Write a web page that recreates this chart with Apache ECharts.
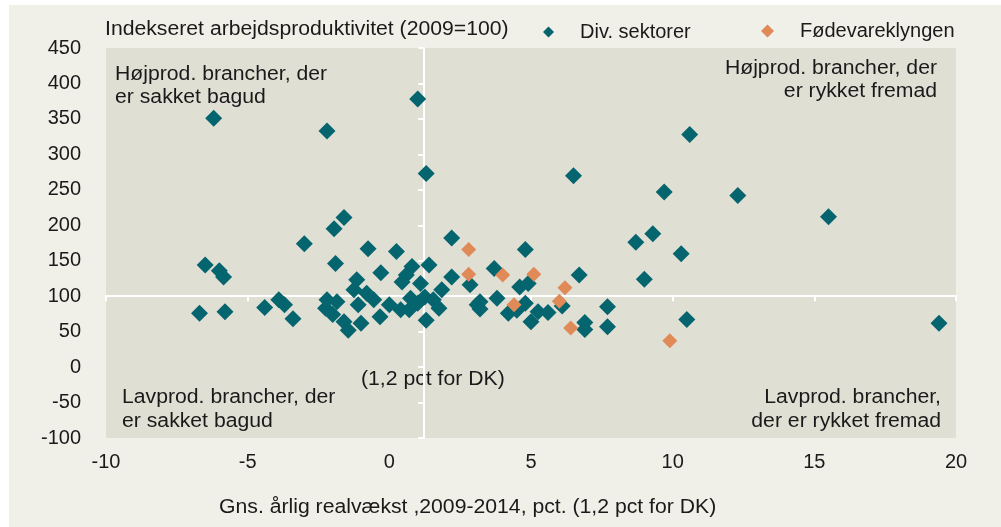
<!DOCTYPE html>
<html>
<head>
<meta charset="utf-8">
<script src="https://cdn.jsdelivr.net/npm/echarts@6/dist/echarts.min.js"></script>
<style>
  html, body { margin: 0; padding: 0; background: #ffffff; }
  #wrap { position: relative; width: 1001px; height: 527px; }
  #panel { position: absolute; left: 9px; top: 5px; right: 0; bottom: 0; background: #f0efe8; }
  #chart { position: absolute; left: 0; top: 0; width: 1001px; height: 527px; }
</style>
</head>
<body>
<div id="wrap">
  <div id="panel"></div>
  <div id="chart"></div>
</div>
<script>
  // [vaekst, produktivitet]
  var divSektorer = [
    [-6.2, 351], [-2.2, 333], [1.0, 378], [1.3, 273], [10.6, 328], [6.5, 270], [9.7, 247], [12.3, 242], [15.5, 212],
    [8.7, 176], [9.3, 188], [10.3, 160], [9.0, 124], [6.7, 130], [7.7, 85], [7.7, 57], [6.9, 63], [6.9, 53],
    [10.5, 67], [19.4, 62], [6.1, 86], [5.6, 77],
    [2.2, 182], [4.8, 166], [-0.75, 167], [0.25, 163], [-0.3, 133], [1.4, 144], [0.8, 142], [0.6, 130], [0.45, 120],
    [2.2, 127], [2.85, 116], [3.7, 139], [4.6, 113], [4.9, 118], [1.1, 118], [1.85, 109], [3.2, 92], [3.2, 82],
    [3.8, 97], [4.2, 76], [4.8, 90], [4.5, 80], [5.0, 64], [5.25, 78], [1.3, 66],
    [-1.6, 211], [-1.95, 195], [-3.0, 174], [-1.9, 146], [-6.5, 144], [-6.0, 136], [-5.85, 127], [-6.7, 76],
    [-5.8, 78], [-4.4, 84], [-3.9, 95], [-3.7, 88], [-3.4, 68],
    [-1.15, 123], [-1.25, 109], [-0.8, 104], [-0.55, 95], [-1.1, 88], [-2.2, 95], [-1.85, 92], [-2.25, 83],
    [-2.0, 74], [-1.6, 64], [-1.45, 52], [-1.0, 62], [-0.33, 71], [0.0, 88], [0.4, 81], [0.7, 81], [0.75, 97],
    [1.0, 90], [1.25, 99], [1.55, 95], [1.75, 83], [3.1, 88]
  ];
  var foedevare = [
    [2.8, 166], [2.8, 131], [4.0, 130], [5.1, 131], [4.4, 88], [6.2, 112], [6.0, 93], [6.4, 55], [9.9, 37]
  ];
  var seriesNames = ['Div. sektorer', 'Fødevareklyngen'];
  var xRange = [-10, 20, 5];
  var yRange = [-100, 450, 50];
  // krydset: DK-vaekst og indeks 100
  var dkVaekst = 1.2;
  var indeksBasis = 100;

  var font = 'Liberation Sans, Arial, sans-serif';
  var txt = '#1a1a1a';
  var sx = 1.06; // teksten i forlaegget er lidt bredere
  var gridPos = { left: 106, right: 45, top: 48, bottom: 89 };

  function label (x, y, text, opts) {
    return {
      type: 'text', x: x, y: y, scaleX: sx,
      style: Object.assign({ text: text, font: '20px ' + font, fill: txt, verticalAlign: 'top' }, opts || {})
    };
  }

  var myChart = echarts.init(document.getElementById('chart'));
  myChart.setOption({
    backgroundColor: 'transparent',
    animation: false,
    textStyle: { fontFamily: font },
    legend: [
      {
        data: [seriesNames[0]], left: 538, top: 17, icon: 'diamond',
        itemWidth: 11, itemHeight: 11,
        textStyle: { fontSize: 20, color: txt, fontFamily: font, padding: [0, 0, 0, 21] }
      },
      {
        data: [seriesNames[1]], left: 756, top: 16, icon: 'diamond',
        itemWidth: 13, itemHeight: 13,
        textStyle: { fontSize: 20, color: txt, fontFamily: font, padding: [0, 0, 0, 21] }
      }
    ],
    grid: [
      Object.assign({ show: true, backgroundColor: '#e0dfd4', borderWidth: 0 }, gridPos),
      Object.assign({ show: false }, gridPos)
    ],
    xAxis: [
      {
        type: 'value', min: xRange[0], max: xRange[1], interval: xRange[2],
        axisLine: { show: false }, axisTick: { show: false }, splitLine: { show: false },
        axisLabel: { fontSize: 20, color: txt, fontFamily: font, margin: 14 }
      },
      {
        // hjaelpeakse, forskudt saa 0 ligger ved 1,2
        gridIndex: 1, type: 'value',
        min: xRange[0] - dkVaekst, max: xRange[1] - dkVaekst, interval: xRange[2],
        axisLine: { show: true, onZero: true, lineStyle: { color: '#ffffff', width: 2 } },
        axisTick: { show: true, length: 5, lineStyle: { color: '#ffffff', width: 2 } },
        axisLabel: { show: false }, splitLine: { show: false }
      }
    ],
    yAxis: [
      {
        type: 'value', min: yRange[0], max: yRange[1], interval: yRange[2],
        axisLine: { show: false }, axisTick: { show: false }, splitLine: { show: false },
        axisLabel: { fontSize: 20, color: txt, fontFamily: font, margin: 25 }
      },
      {
        gridIndex: 1, type: 'value',
        min: yRange[0] - indeksBasis, max: yRange[1] - indeksBasis, interval: yRange[2],
        axisLine: { show: true, onZero: true, lineStyle: { color: '#ffffff', width: 2 } },
        axisTick: { show: true, length: 5, lineStyle: { color: '#ffffff', width: 2 } },
        axisLabel: { show: false }, splitLine: { show: false }
      }
    ],
    graphic: [
      label(105, 19, 'Indekseret arbejdsproduktivitet (2009=100)'),
      label(219, 497, 'Gns. årlig realvækst ,2009-2014, pct. (1,2 pct for DK)'),
      label(115, 63, 'Højprod. brancher, der\ner sakket bagud', { lineHeight: 23 }),
      label(937, 57, 'Højprod. brancher, der\ner rykket fremad', { lineHeight: 23, align: 'right' }),
      label(122, 385, 'Lavprod. brancher, der\ner sakket bagud', { lineHeight: 24 }),
      label(941, 385, 'Lavprod. brancher,\nder er rykket fremad', { lineHeight: 24, align: 'right' }),
      label(361, 379, '(1,2 pct for DK)', { verticalAlign: 'middle' })
    ],
    series: [
      {
        name: seriesNames[0], type: 'scatter', symbol: 'diamond', symbolSize: 17,
        itemStyle: { color: '#05656f', opacity: 1 },
        data: divSektorer
      },
      {
        name: seriesNames[1], type: 'scatter', symbol: 'diamond', symbolSize: 15,
        itemStyle: { color: '#e08a57', opacity: 1 },
        data: foedevare
      }
    ]
  });
</script>
</body>
</html>
